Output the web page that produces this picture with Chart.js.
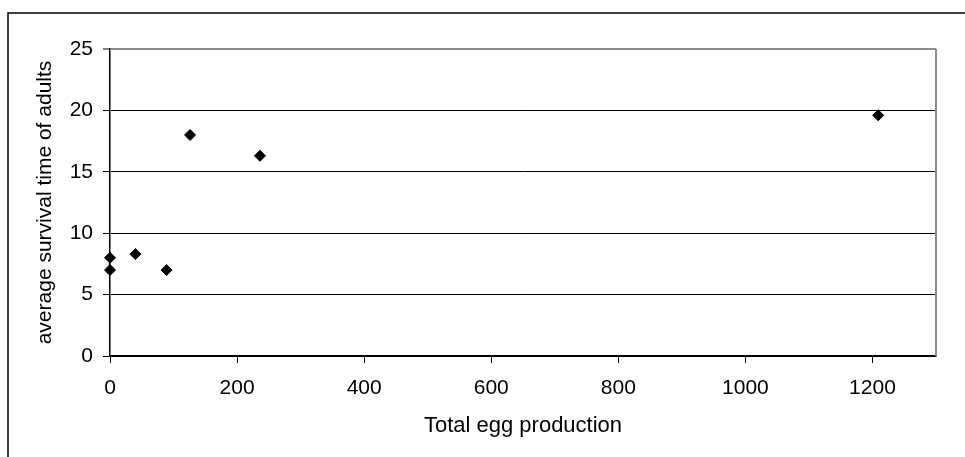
<!DOCTYPE html>
<html>
<head>
<meta charset="utf-8">
<script src="https://cdn.jsdelivr.net/npm/chart.js@4.4.0/dist/chart.umd.min.js"></script>
<style>
  html, body { margin: 0; padding: 0; background: #fff; }
  #wrap { width: 965px; height: 457px; position: relative; }
</style>
</head>
<body>
<div id="wrap"><canvas id="myChart"></canvas></div>
<script>
// egg production vs. survival time
const eggProduction = [0, 0, 40, 89, 126, 236, 1209];
const survivalTime = [8.0, 7.0, 8.3, 7.0, 18.0, 16.3, 19.6];
const xTicks = [0, 200, 400, 600, 800, 1000, 1200];
const yTicks = [0, 5, 10, 15, 20, 25];
const xTitle = 'Total egg production';
const yTitle = 'average survival time of adults';

const FAMILY = 'Liberation Sans, Arial, sans-serif';

// outer frame (top + left) and the grey right edge of the plot
const frame = {
  id: 'frame',
  afterDraw(chart) {
    const { ctx, chartArea } = chart;
    ctx.save();
    ctx.strokeStyle = '#000';
    ctx.lineWidth = 1.5;
    ctx.beginPath();
    ctx.moveTo(8, chart.height);
    ctx.lineTo(8, 13);
    ctx.lineTo(chart.width, 13);
    ctx.stroke();
    ctx.strokeStyle = '#8c8c8c';
    ctx.lineWidth = 2;
    ctx.beginPath();
    ctx.moveTo(chartArea.right, chartArea.top);
    ctx.lineTo(chartArea.right, chartArea.bottom);
    ctx.stroke();
    ctx.restore();
  }
};

const points = eggProduction.map((x, i) => ({ x: x, y: survivalTime[i] }));

new Chart(document.getElementById('myChart'), {
  type: 'scatter',
  data: {
    datasets: [{
      data: points,
      pointStyle: 'rectRot',
      pointRadius: 5.5,
      pointHoverRadius: 5.5,
      backgroundColor: '#000',
      borderColor: '#000',
      borderWidth: 1,
      clip: false
    }]
  },
  options: {
    responsive: true,
    maintainAspectRatio: false,
    animation: false,
    events: [],
    layout: { padding: { left: 0, top: 49, right: 29, bottom: 0 } },
    plugins: { legend: { display: false }, tooltip: { enabled: false } },
    scales: {
      x: {
        type: 'linear',
        min: 0,
        max: 1300,
        afterBuildTicks: (s) => { s.ticks = xTicks.map(v => ({ value: v })); },
        afterFit: (s) => { s.height = 101; },
        border: { display: true, color: '#000', width: 1.5 },
        grid: { drawOnChartArea: false, drawTicks: true, tickLength: 7, tickColor: '#000', tickWidth: 1 },
        ticks: {
          color: '#000',
          font: { family: FAMILY, size: 21 },
          padding: 13,
          maxRotation: 0,
          callback: (v) => String(v)
        },
        title: {
          display: true, text: xTitle, color: '#000',
          font: { family: FAMILY, size: 22 },
          padding: { top: 0, bottom: 18 }
        }
      },
      y: {
        min: 0,
        max: 25,
        afterBuildTicks: (s) => { s.ticks = yTicks.map(v => ({ value: v })); },
        afterFit: (s) => { s.width = 110; },
        border: { display: true, color: '#000', width: 1.5 },
        grid: {
          color: (c) => (c.tick && c.tick.value === 25 ? '#8c8c8c' : '#000'),
          lineWidth: (c) => (c.tick && c.tick.value === 25 ? 2 : 1),
          drawTicks: true,
          tickLength: 7,
          tickColor: '#000',
          tickWidth: 1
        },
        ticks: {
          color: '#000',
          font: { family: FAMILY, size: 21 },
          padding: 10,
          callback: (v) => String(v)
        },
        title: {
          display: true, text: yTitle, color: '#000',
          font: { family: FAMILY, size: 21 },
          padding: { top: 33, bottom: 33 }
        }
      }
    }
  },
  plugins: [frame]
});
</script>
</body>
</html>
